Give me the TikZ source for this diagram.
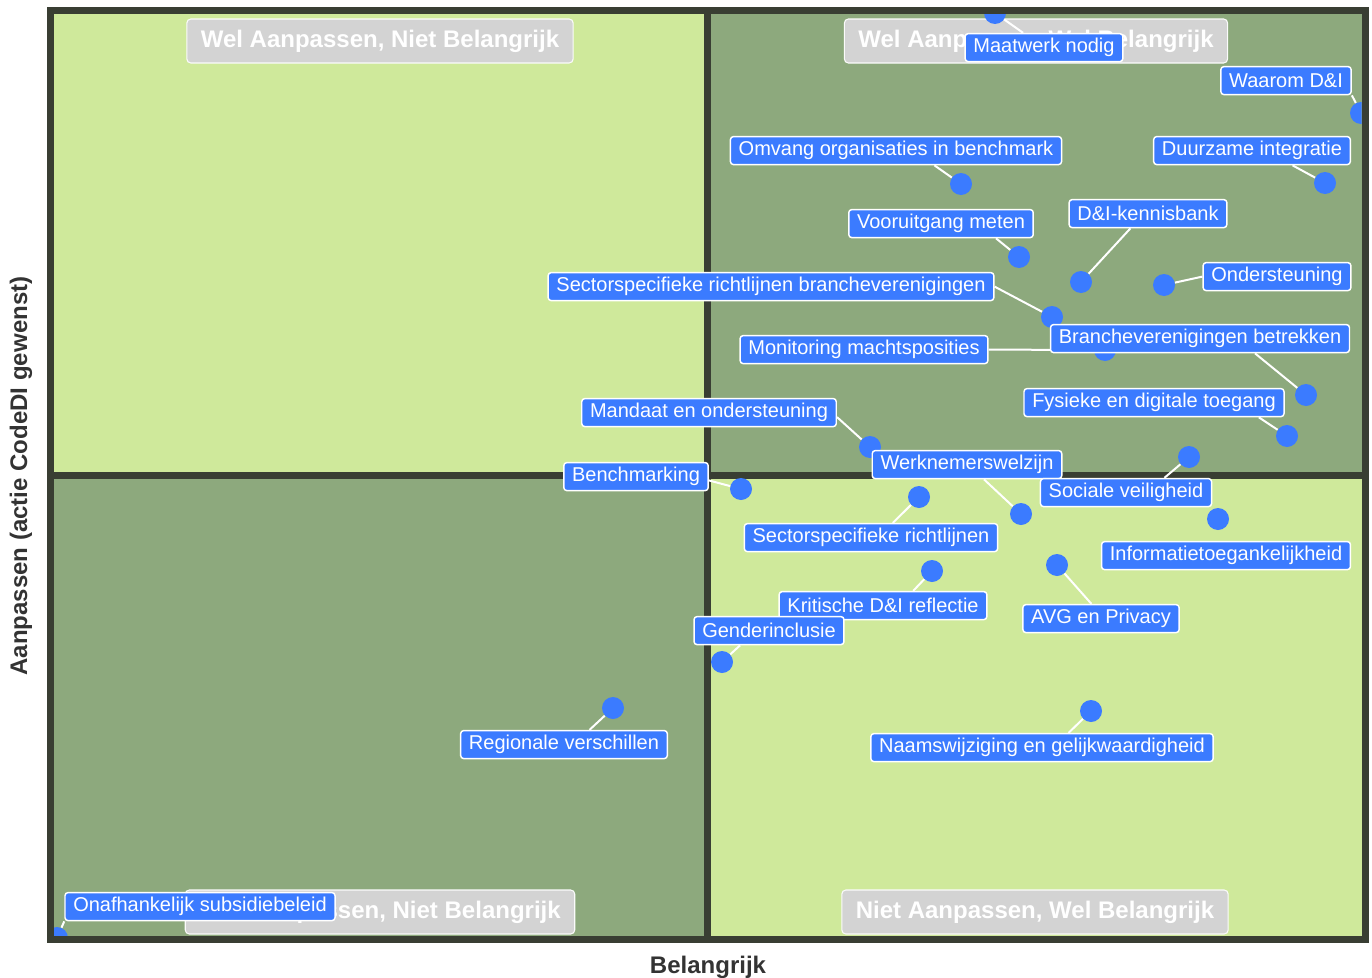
\documentclass[tikz,border=0pt]{standalone}
\usepackage{fontspec}
\setmainfont{Liberation Sans}
\usepackage{xcolor}
\usepackage{tikz}
\definecolor{lichtgroen}{RGB}{207,233,155}
\definecolor{donkergroen}{RGB}{141,169,125}
\definecolor{kader}{RGB}{57,62,51}
\definecolor{stip}{RGB}{59,123,255}
\definecolor{titelgrijs}{RGB}{211,211,211}
\definecolor{asgrijs}{RGB}{51,51,51}
\pgfdeclarelayer{achter}
\pgfdeclarelayer{lijnen}
\pgfsetlayers{achter,lijnen,main}

\begin{document}
\begin{tikzpicture}[x=0.75pt,y=-0.75pt,line cap=round,line join=round,
  punt/.style={circle,fill=stip,inner sep=0pt,minimum size=16.5pt},
  etiket/.style={draw=white,line width=1.1pt,fill=stip,text=white,rounded corners=2.25pt,
    font=\fontsize{15}{18}\selectfont,inner xsep=6.2pt,inner ysep=0pt,minimum height=21pt,yshift=-1.2pt},
  verbinder/.style={draw=white,line width=1.5pt},
  kwadrant/.style={draw=white!90!titelgrijs,line width=0.8pt,fill=titelgrijs,text=white,rounded corners=3pt,
    font=\bfseries\fontsize{18}{22}\selectfont,inner xsep=10.5pt,inner ysep=0pt,minimum height=33pt,yshift=-1.5pt},
  astitel/.style={text=asgrijs,font=\bfseries\fontsize{18}{22}\selectfont}]
\useasboundingbox (0,0) rectangle (1372,978);
%\label{fig:codedi:kwadranten}
\begin{pgfonlayer}{achter}
\fill[lichtgroen] (50,10.5) rectangle (707.5,475);
\fill[donkergroen] (707.5,10.5) rectangle (1365,475);
\fill[donkergroen] (50,475) rectangle (707.5,939.5);
\fill[lichtgroen] (707.5,475) rectangle (1365,939.5);
\draw[kader,line width=5.25pt,line cap=butt] (707.5,10.5) -- (707.5,939.5);
\draw[kader,line width=5.25pt,line cap=butt] (50,475) -- (1365,475);
\node[kwadrant] (q1) at (380,39) {Wel Aanpassen, Niet Belangrijk};
\node[kwadrant] (q2) at (1036,39) {Wel Aanpassen, Wel Belangrijk};
\node[kwadrant] (q3) at (380,910) {Niet Aanpassen, Niet Belangrijk};
\node[kwadrant] (q4) at (1035,910) {Niet Aanpassen, Wel Belangrijk};
\end{pgfonlayer}
\draw[kader,line width=5.25pt,line join=miter] (50,10.5) rectangle (1365,939.5);
\node[astitel] (xas) at (708,967) {Belangrijk};
\node[astitel,rotate=90] (yas) at (21,476) {Aanpassen (actie CodeDI gewenst)};
% etiketten
\node[etiket] (l1) at (1044,46) {Maatwerk nodig};
\node[etiket] (l2) at (1286,79) {Waarom D\&I};
\node[etiket] (l3) at (896,149) {Omvang organisaties in benchmark};
\node[etiket] (l4) at (1252,149) {Duurzame integratie};
\node[etiket] (l5) at (941,222) {Vooruitgang meten};
\node[etiket] (l6) at (1148,212) {D\&I-kennisbank};
\node[etiket] (l7) at (1277,275) {Ondersteuning};
\node[etiket] (l8) at (771,285) {Sectorspecifieke richtlijnen brancheverenigingen};
\node[etiket] (l9) at (864,348) {Monitoring machtsposities};
\node[etiket] (l10) at (1200,337) {Brancheverenigingen betrekken};
\node[etiket] (l11) at (1154,401) {Fysieke en digitale toegang};
\node[etiket] (l12) at (709,411) {Mandaat en ondersteuning};
\node[etiket] (l13) at (967,463) {Werknemerswelzijn};
\node[etiket] (l14) at (636,475) {Benchmarking};
\node[etiket] (l15) at (1126,491) {Sociale veiligheid};
\node[etiket] (l16) at (871,536) {Sectorspecifieke richtlijnen};
\node[etiket] (l17) at (1226,554) {Informatietoegankelijkheid};
\node[etiket] (l18) at (883,604) {Kritische D\&I reflectie};
\node[etiket] (l19) at (1101,617) {AVG en Privacy};
\node[etiket] (l20) at (769,629) {Genderinclusie};
\node[etiket] (l21) at (564,743) {Regionale verschillen};
\node[etiket] (l22) at (1042,746) {Naamswijziging en gelijkwaardigheid};
\node[etiket] (l23) at (200,905) {Onafhankelijk subsidiebeleid};
\begin{pgfonlayer}{lijnen}
\clip (53.5,14) rectangle (1361.5,936);
\node[punt] (p1) at (995,13) {};
\node[punt] (p2) at (1361,113) {};
\node[punt] (p3) at (961,184) {};
\node[punt] (p4) at (1325,183) {};
\node[punt] (p5) at (1019,257) {};
\node[punt] (p6) at (1081,282) {};
\node[punt] (p7) at (1164,285) {};
\node[punt] (p8) at (1052,317) {};
\node[punt] (p9) at (1105,350) {};
\node[punt] (p10) at (1306,395) {};
\node[punt] (p11) at (1287,436) {};
\node[punt] (p12) at (870,447) {};
\node[punt] (p13) at (1021,514) {};
\node[punt] (p14) at (741,489) {};
\node[punt] (p15) at (1189,457) {};
\node[punt] (p16) at (919,497) {};
\node[punt] (p17) at (1218,519) {};
\node[punt] (p18) at (932,571) {};
\node[punt] (p19) at (1057,565) {};
\node[punt] (p20) at (722,662) {};
\node[punt] (p21) at (613,708) {};
\node[punt] (p22) at (1091,711) {};
\node[punt] (p23) at (57,938) {};
\draw[verbinder] (l1) -- (p1);
\draw[verbinder] (l2.south east) -- (p2);
\draw[verbinder] (l3.-21) -- (p3);
\draw[verbinder] (l4.-20) -- (p4);
\draw[verbinder] (l5.-15) -- (p5);
\draw[verbinder] (l6.-140) -- (p6);
\draw[verbinder] (l7.west) -- (p7);
\draw[verbinder] (l8.east) -- (p8);
\draw[verbinder] (l9.east) -- (p9);
\draw[verbinder] (l10.-15) -- (p10);
\draw[verbinder] (l11.-8) -- (p11);
\draw[verbinder] (l12.-2) -- (p12);
\draw[verbinder] (l13.-41) -- (p13);
\draw[verbinder] (l14.-3) -- (p14);
\draw[verbinder] (l15.21) -- (p15);
\draw[verbinder] (l16.34) -- (p16);
\draw[verbinder] (l18.26) -- (p18);
\draw[verbinder] (l19.123) -- (p19);
\draw[verbinder] (l20.-153) -- (p20);
\draw[verbinder] (l21.30) -- (p21);
\draw[verbinder] (l22.29) -- (p22);
\draw[verbinder] (l23.south west) -- (p23);
\end{pgfonlayer}
\end{tikzpicture}
\end{document}
